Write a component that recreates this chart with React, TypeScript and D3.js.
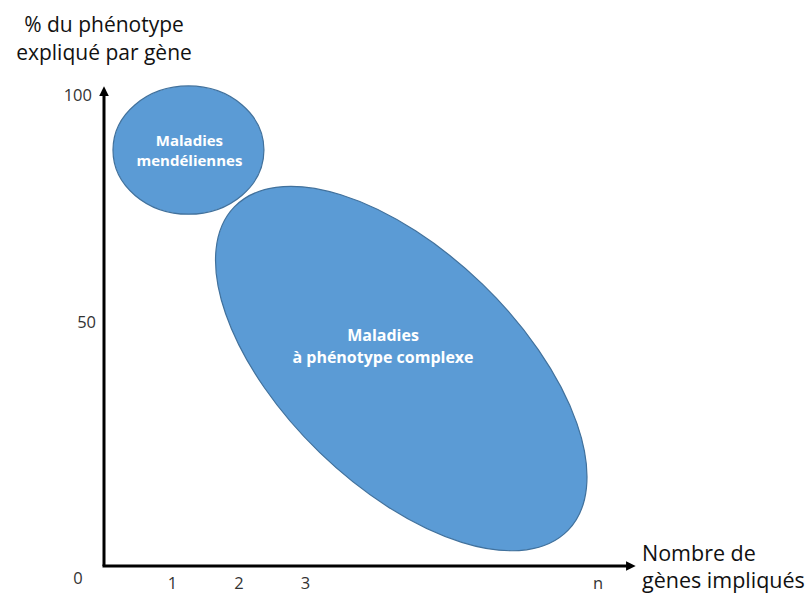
import React from "react";
import * as d3 from "d3";

// ---- data (conceptual diagram) ----
const xTickValues = [1, 2, 3, 7.4];
const xTickLabels = ["1", "2", "3", "n"];
const yTickValues = [50, 100];
const yTickLabels = ["50", "100"];

// Mendelian diseases: axis-aligned ellipse (data units)
const mendelCenter = [1.24, 87.9];
const mendelRadius = [1.135, 14.1];
const mendelLabel = ["Maladies", "mendéliennes"];

// Complex diseases: ellipse given by its major-axis end points (data units)
const complexAxisStart = [1.93, 75.4];
const complexAxisEnd = [6.95, 4.36];
const complexMinorRatio = 0.504;
const complexLabel = ["Maladies", "à phénotype complexe"];

const yTitle = ["% du phénotype", "expliqué par gène"];
const xTitle = ["Nombre de", "gènes impliqués"];

const W = 809;
const H = 595;
const FONT = "'Open Sans', 'Noto Sans', sans-serif";
const FILL = "#5B9BD5";
const STROKE = "#41719C";

export default function App() {
  const x = d3.scaleLinear().domain([0, 8]).range([106, 638]);
  const y = d3.scaleLinear().domain([0, 100]).range([550, 95]);

  const axisX0 = 104;
  const axisY0 = 566;
  const xArrowTip = 636;
  const yArrowTip = 86;

  // Mendelian ellipse in px
  const mcx = x(mendelCenter[0]);
  const mcy = y(mendelCenter[1]);
  const mrx = x(mendelRadius[0]) - x(0);
  const mry = y(0) - y(mendelRadius[1]);

  // complex ellipse in px
  const p1 = [x(complexAxisStart[0]), y(complexAxisStart[1])];
  const p2 = [x(complexAxisEnd[0]), y(complexAxisEnd[1])];
  const ccx = (p1[0] + p2[0]) / 2;
  const ccy = (p1[1] + p2[1]) / 2;
  const ca = Math.hypot(p2[0] - p1[0], p2[1] - p1[1]) / 2;
  const cb = ca * complexMinorRatio;
  const cang = (Math.atan2(p2[1] - p1[1], p2[0] - p1[0]) * 180) / Math.PI;

  return (
    <svg
      width={W}
      height={H}
      style={{ position: "absolute", left: 0, top: 0, background: "#fff" }}
      fontFamily={FONT}
    >
      <defs>
        <marker id="arrow" viewBox="0 0 10 10" refX="2" refY="5" markerWidth="3.2" markerHeight="3.6" orient="auto" markerUnits="strokeWidth">
          <path d="M0,0 L10,5 L0,10 z" fill="#000" />
        </marker>
      </defs>

      {/* y title */}
      {yTitle.map((t, i) => (
        <text key={t} x={104} y={31.5 + i * 28.5} fontSize={21} textAnchor="middle" fill="#111">
          {t}
        </text>
      ))}

      {/* ellipses */}
      <ellipse cx={mcx} cy={mcy} rx={mrx} ry={mry} fill={FILL} stroke={STROKE} strokeWidth={1.2} />
      <ellipse
        cx={0}
        cy={0}
        rx={ca}
        ry={cb}
        transform={`translate(${ccx},${ccy}) rotate(${cang})`}
        fill={FILL}
        stroke={STROKE}
        strokeWidth={1.2}
      />

      {/* axes */}
      <line x1={axisX0} y1={axisY0} x2={axisX0} y2={yArrowTip + 8} stroke="#000" strokeWidth={3} markerEnd="url(#arrow)" />
      <line x1={axisX0 - 1.5} y1={axisY0} x2={xArrowTip - 8} y2={axisY0} stroke="#000" strokeWidth={3} markerEnd="url(#arrow)" />

      {/* y ticks */}
      {yTickValues.map((v, i) => (
        <text key={v} x={v === 100 ? 92 : 96} y={y(v)} dy="0.35em" fontSize={16.5} textAnchor="end" fill="#333">
          {yTickLabels[i]}
        </text>
      ))}
      <text x={78} y={578} dy="0.35em" fontSize={16.5} textAnchor="middle" fill="#333">0</text>

      {/* x ticks */}
      {xTickValues.map((v, i) => (
        <text key={v} x={x(v)} y={583.5} dy="0.35em" fontSize={16.5} textAnchor="middle" fill="#333">
          {xTickLabels[i]}
        </text>
      ))}

      {/* x title */}
      {xTitle.map((t, i) => (
        <text key={t} x={642} y={561 + i * 27} fontSize={21.5} textAnchor="start" fill="#111">
          {t}
        </text>
      ))}

      {/* ellipse labels */}
      {mendelLabel.map((t, i) => (
        <text key={t} x={mcx + 1} y={145.5 + i * 20.5} fontSize={15} fontWeight="bold" textAnchor="middle" fill="#fff">
          {t}
        </text>
      ))}
      {complexLabel.map((t, i) => (
        <text key={t} x={383} y={340.7 + i * 22} fontSize={16} fontWeight="bold" textAnchor="middle" fill="#fff">
          {t}
        </text>
      ))}
    </svg>
  );
}
